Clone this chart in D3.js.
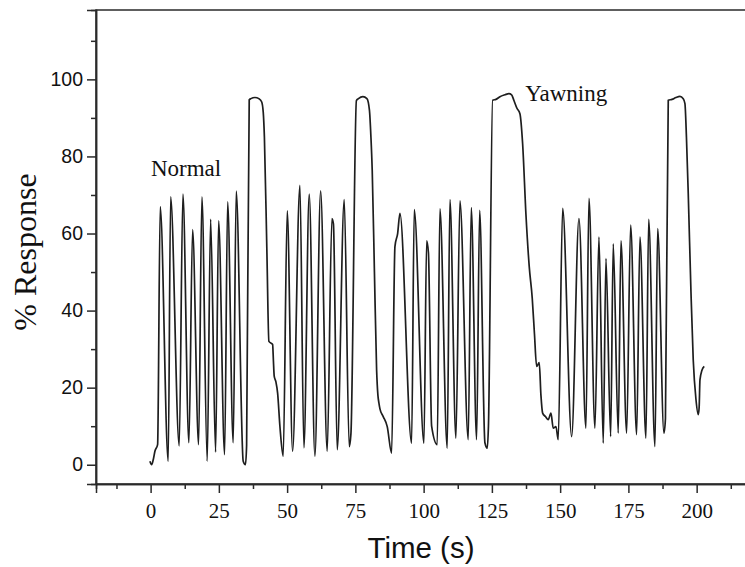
<!DOCTYPE html>
<html>
<head>
<meta charset="utf-8">
<script src="https://cdn.jsdelivr.net/npm/d3@7"></script>
<style>
  html, body { margin: 0; padding: 0; background: #fff; }
  svg { display: block; }
</style>
</head>
<body>
<svg id="chart" width="745" height="567"></svg>
<script>
// ---- data (time in s, response in %) ----
const timeS = [
  -0.26, 0.37, 1.03, 1.58, 2.56, 3.52, 6.45, 7.33, 10.48, 11.83, 14.03, 15.38, 17.58, 18.79,
  20.73, 21.98, 23.81, 24.91, 27.11, 28.21, 30.26, 31.36, 33.92, 34.73, 35.16, 36.12, 36.74,
  38.21, 39.67, 40.66, 41.25, 41.68, 42.6, 43.33, 44.69, 44.98, 45.27, 45.9, 46.52, 47.36, 48.57,
  50.04, 52.01, 54.69, 56.15, 58.1, 60.18, 62.27, 64.69, 66.41, 66.96, 68.35, 70.92, 72.75,
  73.37, 75.38, 76.12, 77.77, 79.23, 80.15, 80.7, 81.17, 81.98, 82.78, 83.26, 83.63, 84.0,
  85.2, 86.67, 88.28,
  89.49, 90.48, 91.32, 95.6, 96.56, 100.11, 101.1, 101.76, 102.93, 104.98, 105.97, 108.64,
  109.63, 111.83, 113.3, 116.34, 117.44, 119.41, 120.51, 122.45, 123.3, 123.74, 125.27,
  126.48, 127.95, 129.78, 131.25, 132.23, 133.08, 134.18, 135.27, 136.26, 137.47, 138.68,
  139.78, 140.59, 141.39, 142.34, 142.97, 143.59, 144.62, 145.64, 146.63, 147.47, 148.46, 149.3,
  150.92, 154.21, 156.89, 159.45, 160.55, 162.75, 164.21, 165.79, 166.78, 168.5, 169.45,
  171.28, 172.27, 174.36, 175.82, 178.02, 179.23, 181.43, 182.42, 184.73, 185.71, 188.02,
  188.57, 189.6, 190.95, 192.42, 193.88, 195.09, 195.71, 196.26, 196.92, 197.91, 198.75,
  199.74, 200.59, 200.92, 201.21, 201.94, 202.78
];
const responsePct = [
  0.9, 0.0, 1.5, 3.5, 5.2, 67.0, 0.9, 69.5, 4.9, 70.2, 5.7, 61.0, 5.2, 69.5,
  0.9, 63.7, 3.3, 63.3, 2.6, 68.2, 5.7, 71.0, 0.9, 0.0, 5.0, 94.7, 95.0,
  95.3, 95.0, 94.2, 91.5, 85.0, 55.0, 32.0, 31.2, 27.0, 23.0, 21.5, 18.6, 10.0, 2.2,
  65.9, 3.5, 72.5, 4.4, 70.2, 2.2, 71.1, 3.5, 63.9, 62.5, 3.9, 68.8, 4.7,
  8.0, 94.5, 95.0, 95.5, 95.0, 92.0, 85.0, 76.4, 50.0, 24.6, 18.0, 16.0, 14.5,
  12.5, 9.9, 3.0,
  56.6, 60.0, 65.2, 5.6, 66.2, 5.6, 58.1, 55.0, 10.0, 5.2, 66.4, 4.3,
  68.8, 6.9, 68.5, 6.5, 66.7, 6.5, 66.0, 5.7, 4.3, 10.0, 94.6,
  94.8, 95.5, 96.0, 96.3, 96.0, 94.5, 92.5, 91.1, 83.3, 65.0, 51.4,
  43.2, 34.0, 25.5, 26.5, 18.0, 13.4, 12.5, 11.7, 13.4, 9.5, 9.9, 6.5,
  66.5, 7.3, 63.9, 9.5, 69.1, 9.5, 59.1, 5.6, 53.5, 7.3, 57.3,
  8.2, 58.1, 8.2, 62.2, 7.8, 59.1, 6.9, 63.7, 4.7, 61.3, 8.2,
  12.0, 94.6, 94.8, 95.3, 95.6, 95.0, 93.7, 85.0, 70.4, 45.0, 27.2,
  17.0, 13.0, 15.0, 22.0, 24.5, 25.5
];
const xTickValues = [0, 25, 50, 75, 100, 125, 150, 175, 200];
const xMinorTicks = [-12.5, 12.5, 37.5, 62.5, 87.5, 112.5, 137.5, 162.5, 187.5, 212.5];
const yTickValues = [0, 20, 40, 60, 80, 100];
const yMinorTicks = [10, 30, 50, 70, 90, 110];
const annotations = [
  { text: "Normal", t: 0.1, v: 75.0 },
  { text: "Yawning", t: 137.2, v: 94.3 }
];
const xTitle = "Time (s)";
const yTitle = "% Response";

// ---- layout ----
const svg = d3.select("#chart");
const L = 96, T = 10, R = 745.8, B = 484;
const x = d3.scaleLinear().domain([-20, 218]).range([L, R]);
const y = d3.scaleLinear().domain([-5, 118]).range([B, T]);
const axisColor = "#2a2a2a";

const data = timeS.map((t, i) => [t, responsePct[i]]);

// frame
svg.append("rect")
  .attr("x", L).attr("y", T).attr("width", R - L).attr("height", B - T)
  .attr("fill", "none").attr("stroke", axisColor).attr("stroke-width", 1.5);

// signal
const line = d3.line().x(d => x(d[0])).y(d => y(d[1])).curve(d3.curveMonotoneX);
svg.append("path").datum(data)
  .attr("d", line)
  .attr("fill", "none").attr("stroke", "#1e1e1e").attr("stroke-width", 1.7)
  .attr("stroke-linejoin", "round");

// x axis
const xAxis = svg.append("g").attr("transform", `translate(0,${B})`)
  .call(d3.axisBottom(x).tickValues(xTickValues).tickSize(9).tickPadding(10).tickFormat(d3.format("d")));
const xMinor = svg.append("g").attr("transform", `translate(0,${B})`)
  .call(d3.axisBottom(x).tickValues(xMinorTicks).tickSize(5).tickFormat(""));
[xAxis, xMinor].forEach(g => {
  g.select(".domain").attr("stroke", axisColor).attr("stroke-width", 1.5);
  g.selectAll(".tick line").attr("stroke", axisColor).attr("stroke-width", 1.5);
});
xAxis.selectAll(".tick text")
  .attr("font-family", "'Liberation Serif', 'Times New Roman', serif")
  .attr("font-size", 21).attr("fill", "#111");

// y axis
const yAxis = svg.append("g").attr("transform", `translate(${L},0)`)
  .call(d3.axisLeft(y).tickValues(yTickValues).tickSize(9).tickPadding(4).tickFormat(d3.format("d")));
const yMinor = svg.append("g").attr("transform", `translate(${L},0)`)
  .call(d3.axisLeft(y).tickValues(yMinorTicks).tickSize(5).tickFormat(""));
[yAxis, yMinor].forEach(g => {
  g.select(".domain").attr("stroke", axisColor).attr("stroke-width", 1.5);
  g.selectAll(".tick line").attr("stroke", axisColor).attr("stroke-width", 1.5);
});
yAxis.selectAll(".tick text")
  .attr("font-family", "'Liberation Sans', Arial, sans-serif")
  .attr("font-size", 19.5).attr("fill", "#111");

// titles
svg.append("text")
  .attr("x", 421).attr("y", 558)
  .attr("text-anchor", "middle")
  .attr("font-family", "'Liberation Sans', Arial, sans-serif")
  .attr("font-size", 29.5).attr("fill", "#111")
  .text(xTitle);

svg.append("text")
  .attr("transform", "translate(36,252) rotate(-90)")
  .attr("text-anchor", "middle")
  .attr("font-family", "'Liberation Serif', 'Times New Roman', serif")
  .attr("font-size", 32).attr("fill", "#111")
  .text(yTitle);

// annotations
svg.selectAll("text.anno").data(annotations).enter().append("text")
  .attr("class", "anno")
  .attr("x", d => x(d.t)).attr("y", d => y(d.v))
  .attr("font-family", "'Liberation Serif', 'Times New Roman', serif")
  .attr("font-size", 23).attr("fill", "#111")
  .text(d => d.text);
</script>
</body>
</html>
